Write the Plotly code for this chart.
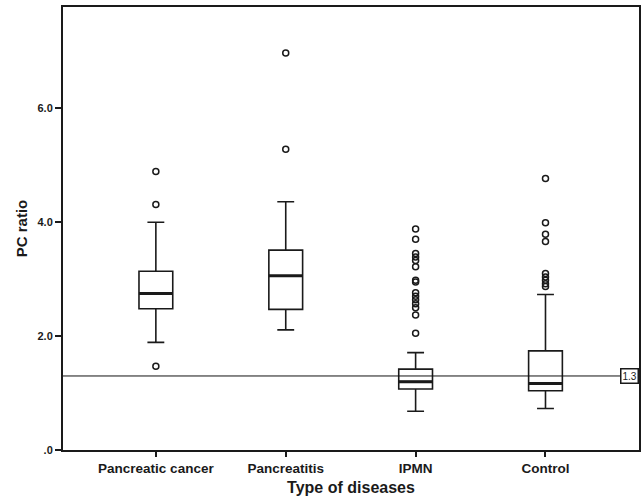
import plotly.graph_objects as go

categories = ["Pancreatic cancer", "Pancreatitis", "IPMN", "Control"]
q1 = [2.48, 2.47, 1.07, 1.04]
median = [2.75, 3.06, 1.20, 1.17]
q3 = [3.14, 3.51, 1.42, 1.74]
lower_whisker = [1.89, 2.11, 0.68, 0.73]
upper_whisker = [4.00, 4.36, 1.71, 2.73]
outliers = [
    [4.89, 4.31, 1.47],
    [6.97, 5.28],
    [3.88, 3.70, 3.45, 3.39, 3.33, 3.22, 2.98, 2.95, 2.76, 2.70, 2.64, 2.57, 2.50, 2.37, 2.05],
    [4.77, 3.99, 3.79, 3.66, 3.10, 3.04, 2.98, 2.92, 2.87],
]
reference_value = 1.3
y_ticks = [0, 2, 4, 6]
y_tick_labels = [".0", "2.0", "4.0", "6.0"]

BOX_W = 0.26
INK = "#1a1a1a"
FONT = "Liberation Sans"

fig = go.Figure()
xs = list(range(len(categories)))

for i in xs:
    fig.add_trace(go.Box(
        x=[i], q1=[q1[i]], median=[median[i]], q3=[q3[i]],
        lowerfence=[lower_whisker[i]], upperfence=[upper_whisker[i]],
        width=BOX_W, whiskerwidth=0.5,
        fillcolor="rgba(0,0,0,0)", line=dict(color=INK, width=1.6),
        boxpoints=False, showlegend=False, hoverinfo="skip",
    ))
    # thicker median line, as in the original
    fig.add_trace(go.Scatter(
        x=[i - BOX_W / 2, i + BOX_W / 2], y=[median[i], median[i]],
        mode="lines", line=dict(color=INK, width=3),
        showlegend=False, hoverinfo="skip",
    ))
    fig.add_trace(go.Scatter(
        x=[i] * len(outliers[i]), y=outliers[i], mode="markers",
        marker=dict(symbol="circle-open", size=6, color=INK, line=dict(width=1.5)),
        showlegend=False, hoverinfo="skip",
    ))

fig.add_shape(type="line", xref="paper", x0=0, x1=1, yref="y",
              y0=reference_value, y1=reference_value,
              line=dict(color="#111111", width=1))
fig.add_annotation(xref="paper", x=1, xanchor="right", yref="y", y=reference_value,
                   yanchor="middle", text=str(reference_value), showarrow=False,
                   font=dict(family=FONT, size=10, color=INK),
                   bgcolor="white", bordercolor=INK, borderwidth=1.5, borderpad=1)

fig.update_layout(
    width=643, height=502,
    margin=dict(l=63, r=4, t=7, b=52, autoexpand=False),
    paper_bgcolor="white", plot_bgcolor="white",
    font=dict(family=FONT, color=INK),
    xaxis=dict(
        range=[-0.715, 3.72], tickmode="array", tickvals=xs,
        ticktext=[f"<b>{c}</b>" for c in categories],
        tickfont=dict(size=13.5, family=FONT, color=INK),
        ticks="outside", ticklen=5, tickwidth=2, tickcolor=INK,
        showline=True, linecolor=INK, linewidth=2, mirror=True,
        showgrid=False, zeroline=False, automargin=False,
        title=dict(text="<b>Type of diseases</b>", font=dict(size=16, family=FONT, color=INK), standoff=7),
    ),
    yaxis=dict(
        range=[0, 7.78], tickmode="array", tickvals=y_ticks,
        ticktext=[f"<b>{t}</b>" for t in y_tick_labels],
        tickfont=dict(size=11, family=FONT, color=INK),
        ticks="outside", ticklen=6, tickwidth=2, tickcolor=INK,
        showline=True, linecolor=INK, linewidth=2, mirror=True,
        showgrid=False, zeroline=False, automargin=False,
        title=dict(text="<b>PC ratio</b>", font=dict(size=15, family=FONT, color=INK), standoff=6),
    ),
)

fig.write_html(
    "out.html",
    config={"displayModeBar": False},
    post_script="document.body.style.margin='0';document.body.style.overflow='hidden';",
)
